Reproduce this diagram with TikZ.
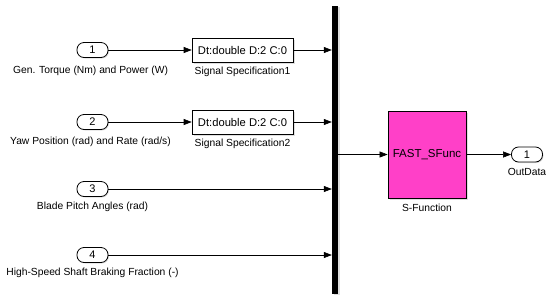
\documentclass[tikz,border=0pt]{standalone}
\usepackage{fontspec}
\setmainfont{Liberation Sans}
\usetikzlibrary{arrows.meta,shadows}
\definecolor{sfpink}{RGB}{255,64,200}
\tikzset{
  port/.style={draw, line width=0.8pt, rounded corners=7pt, minimum width=31pt, minimum height=15pt, inner sep=0pt, fill=white, font=\fontsize{11}{13}\selectfont, drop shadow={shadow xshift=1pt, shadow yshift=-1pt, opacity=0.25}},
  specbox/.style={draw, line width=0.6pt, minimum width=101pt, minimum height=24pt, inner sep=0pt, fill=white, font=\fontsize{11.2}{13}\selectfont, drop shadow={shadow xshift=1.5pt, shadow yshift=-1.5pt, opacity=0.25}},
  lbl/.style={font=\fontsize{10.3}{12}\selectfont, inner sep=0pt},
  sig/.style={line width=0.6pt, -{Triangle[length=8pt,width=6pt]}},
}
\begin{document}
\begin{tikzpicture}[x=1pt,y=-1pt]
\useasboundingbox (0,0) rectangle (550,301);
% input ports
\node[port] (in1) at (92.5,50) {1};
\node[port] (in2) at (92.5,122) {2};
\node[port] (in3) at (92.5,189) {3};
\node[port] (in4) at (92.5,255) {4};
\node[lbl] (l1) at (90.5,71) {Gen. Torque (Nm) and Power (W)};
\node[lbl] (l2) at (90.5,142) {Yaw Position (rad) and Rate (rad/s)};
\node[lbl] (l3) at (92.5,207) {Blade Pitch Angles (rad)};
\node[lbl] (l4) at (92.5,273) {High-Speed Shaft Braking Fraction (-)};
% signal specification
\node[specbox] (s1) at (242.5,50) {Dt:double D:2 C:0};
\node[specbox] (s2) at (242.5,122) {Dt:double D:2 C:0};
\node[lbl] (sl1) at (242.5,72) {Signal Specification1};
\node[lbl] (sl2) at (242.5,144) {Signal Specification2};
% bus bar
\node[fill=black, minimum width=6pt, minimum height=288pt, inner sep=0pt, drop shadow={shadow xshift=1.5pt, shadow yshift=-1pt, opacity=0.25}] (bus) at (335,150) {};
% S-function
\node[draw, line width=0.8pt, fill=sfpink, minimum width=78pt, minimum height=87pt, inner sep=0pt, font=\fontsize{11.5}{13}\selectfont, drop shadow={shadow xshift=1.5pt, shadow yshift=-1.5pt, opacity=0.25}] (sf) at (427,154.5) {FAST\_SFunc};
\node[lbl] (sfl) at (427,208) {S-Function};
% output port
\node[port] (out1) at (527,154.5) {1};
\node[lbl] (ol) at (527,172) {OutData};
% connectors
\draw[sig] (in1.east) -- (s1.west);
\draw[sig] (in2.east) -- (s2.west);
\draw[sig] (s1.east) -- (bus.west |- s1.east);
\draw[sig] (s2.east) -- (bus.west |- s2.east);
\draw[sig] (in3.east) -- (bus.west |- in3.east);
\draw[sig] (in4.east) -- (bus.west |- in4.east);
\draw[sig] (bus.east |- sf.west) -- (sf.west);
\draw[sig] (sf.east) -- (out1.west);
\end{tikzpicture}
\end{document}
